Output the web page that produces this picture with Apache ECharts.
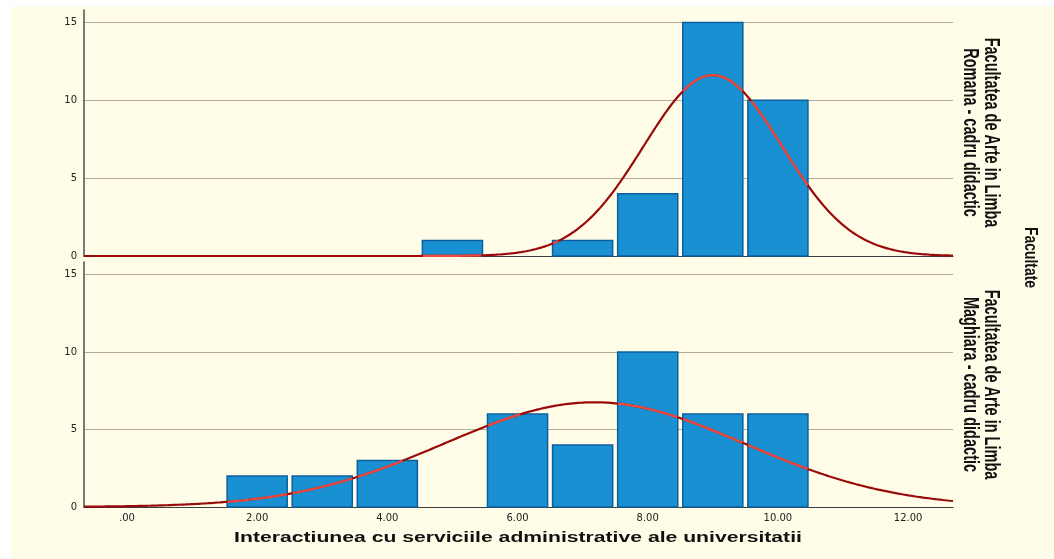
<!DOCTYPE html>
<html>
<head>
<meta charset="utf-8">
<script src="https://cdn.jsdelivr.net/npm/echarts@6/dist/echarts.min.js"></script>
<style>
  html, body { margin: 0; padding: 0; background: #ffffff; }
  #chart { width: 1054px; height: 559px; }
</style>
</head>
<body>
<div id="chart"></div>
<script>
// Histogram bins (bin midpoints, width 1) and counts per faculty
const binMid = [2, 3, 4, 5, 6, 7, 8, 9, 10];
const romanaCounts = [0, 0, 0, 1, 0, 1, 4, 15, 10];
const maghiaraCounts = [2, 2, 3, 0, 6, 4, 10, 6, 6];

// Axis tick labels
const xTickValues = [0, 2, 4, 6, 8, 10, 12];
const yTickValues = [0, 5, 10, 15];

// Texts
const xTitle = 'Interactiunea cu serviciile administrative ale universitatii';
const facetTitle = 'Facultate';
const panelLabels = [
  'Facultatea de Arte in Limba\nRomana - cadru didactic',
  'Facultatea de Arte in Limba\nMaghiara - cadru didactic'
];

const X_MIN = -0.66, X_MAX = 12.69, Y_MAX = 15.8;

// Normal curve fitted to a histogram (mean / sd of the binned values)
function normalFit(counts) {
  let n = 0, s = 0, s2 = 0;
  counts.forEach((c, i) => { n += c; s += c * binMid[i]; s2 += c * binMid[i] * binMid[i]; });
  const mean = s / n;
  const sd = Math.sqrt((s2 - n * mean * mean) / (n - 1));
  return { n, mean, sd };
}
function density(fit, x) {
  return fit.n / (fit.sd * Math.sqrt(2 * Math.PI)) * Math.exp(-0.5 * Math.pow((x - fit.mean) / fit.sd, 2));
}
function curvePoints(counts) {
  const fit = normalFit(counts);
  const full = [], onBars = [];
  const steps = 1400;
  for (let k = 0; k <= steps; k++) {
    const x = X_MIN + (X_MAX - X_MIN) * k / steps;
    const y = density(fit, x);
    full.push([x, y]);
    const idx = binMid.indexOf(Math.round(x));
    const inside = idx >= 0 && counts[idx] > 0 && Math.abs(x - binMid[idx]) <= 0.46 && y <= counts[idx];
    onBars.push(inside ? [x, y] : [x, null]);
  }
  return { full, onBars };
}

const panels = [romanaCounts, maghiaraCounts];
const gridTops = [10, 262];
const gridHeights = [246, 245];

const grids = [], xAxes = [], yAxes = [], series = [];

panels.forEach((counts, p) => {
  grids.push({ left: 84, right: 101, top: gridTops[p], height: gridHeights[p], containLabel: false });
  xAxes.push({
    type: 'value', gridIndex: p, min: X_MIN, max: X_MAX,
    axisLine: { show: true, onZero: false, lineStyle: { color: '#3c3c3c', width: 1.2 } },
    axisTick: { show: false },
    splitLine: { show: false },
    axisLabel: {
      show: p === 1,
      customValues: xTickValues,
      margin: 6,
      color: '#222', fontSize: 10, fontFamily: 'DejaVu Sans',
      formatter: v => v === 0 ? '.00' : v.toFixed(2)
    }
  });
  yAxes.push({
    type: 'value', gridIndex: p, min: 0, max: Y_MAX, interval: 5,
    axisLine: { show: true, onZero: false, lineStyle: { color: '#5a5a5a', width: 1.6 } },
    axisTick: { show: false },
    splitLine: { show: true, showMinLine: false, showMaxLine: false, lineStyle: { color: '#b4aa9a', width: 1 } },
    axisLabel: {
      showMaxLabel: false, margin: 7,
      color: '#222', fontSize: 10, fontFamily: 'DejaVu Sans'
    }
  });

  const barData = binMid.map((m, i) => [m, counts[i]]).filter(d => d[1] > 0);
  series.push({
    type: 'custom', xAxisIndex: p, yAxisIndex: p, z: 2,
    data: barData,
    renderItem: (params, api) => {
      const m = api.value(0), c = api.value(1);
      const tl = api.coord([m - 0.5, c]);
      const br = api.coord([m + 0.5, 0]);
      return {
        type: 'rect',
        shape: { x: tl[0] + 2.5, y: tl[1], width: br[0] - tl[0] - 5, height: br[1] - tl[1] },
        style: { fill: '#1890d2', stroke: '#0c5f9f', lineWidth: 1.5 }
      };
    }
  });

  const pts = curvePoints(counts);
  series.push({
    type: 'line', xAxisIndex: p, yAxisIndex: p, z: 3,
    data: pts.full, showSymbol: false, symbol: 'none', silent: true,
    lineStyle: { color: '#990a0a', width: 2.2 }
  });
  series.push({
    type: 'line', xAxisIndex: p, yAxisIndex: p, z: 4,
    data: pts.onBars, showSymbol: false, symbol: 'none', silent: true, connectNulls: false,
    lineStyle: { color: '#ef4a3f', width: 2.2 }
  });
});

const graphic = [
  // white margin strips
  { type: 'rect', left: 0, top: 0, shape: { width: 1054, height: 6 }, style: { fill: '#ffffff' }, z: 100 },
  { type: 'rect', left: 0, top: 0, shape: { width: 11, height: 559 }, style: { fill: '#ffffff' }, z: 100 },
  {
    type: 'text', x: 518, y: 538, scaleX: 1.41, z: 100,
    style: { text: xTitle, font: 'bold 15px "Liberation Sans", Arial, sans-serif', fill: '#111', textAlign: 'center', textVerticalAlign: 'middle' }
  },
  {
    type: 'text', x: 1030, y: 257.5, rotation: -Math.PI / 2, scaleX: 1.03, scaleY: 1.38, z: 100,
    style: { text: facetTitle, font: 'bold 13.5px "Liberation Sans", Arial, sans-serif', fill: '#111', textAlign: 'center', textVerticalAlign: 'middle' }
  },
  {
    type: 'text', x: 981, y: 132.5, rotation: -Math.PI / 2, scaleX: 0.908, scaleY: 1.4, z: 100,
    style: { text: panelLabels[0], font: 'bold 16px "Liberation Sans", Arial, sans-serif', lineHeight: 15, fill: '#111', textAlign: 'center', textVerticalAlign: 'middle' }
  },
  {
    type: 'text', x: 981, y: 384.5, rotation: -Math.PI / 2, scaleX: 0.908, scaleY: 1.4, z: 100,
    style: { text: panelLabels[1], font: 'bold 16px "Liberation Sans", Arial, sans-serif', lineHeight: 15, fill: '#111', textAlign: 'center', textVerticalAlign: 'middle' }
  }
];

const chart = echarts.init(document.getElementById('chart'), null, { renderer: 'canvas' });
chart.setOption({
  backgroundColor: '#fffde7',
  animation: false,
  grid: grids,
  xAxis: xAxes,
  yAxis: yAxes,
  series: series,
  graphic: graphic
});
</script>
</body>
</html>
